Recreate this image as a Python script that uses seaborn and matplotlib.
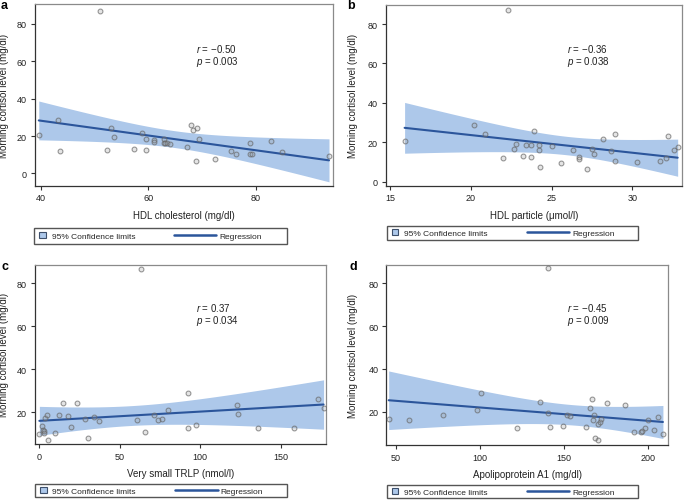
import numpy as np
import matplotlib
matplotlib.use("Agg")
import matplotlib.pyplot as plt
import seaborn as sns
from matplotlib.patches import Patch, Rectangle
from matplotlib.lines import Line2D

# values
hdl_chol = [39.6, 43.2, 43.5, 51.1, 52.4, 53.0, 53.7, 57.4, 58.9, 59.6, 59.6, 61.0, 61.1,
            63.0, 62.9, 63.2, 63.5, 64.0, 67.3, 68.0, 68.4, 69.1, 68.9, 69.4, 72.5, 75.4,
            76.3, 79.0, 79.0, 79.4, 82.8, 85.0, 93.7]
cort_a = [20.7, 28.7, 12.1, 86.8, 12.7, 24.5, 19.3, 13.2, 21.6, 12.7, 18.4, 17.7, 16.6,
          18.2, 16.3, 16.3, 16.3, 15.5, 13.9, 25.9, 23.0, 24.1, 6.6, 18.4, 7.5, 12.1,
          10.2, 16.1, 10.5, 10.2, 17.5, 11.4, 9.5]

hdl_particle = [15.9, 20.2, 20.9, 22.3, 22.0, 22.7, 22.8, 23.2, 23.4, 23.7, 23.7, 23.9,
                24.2, 24.2, 24.3, 25.0, 25.6, 26.3, 26.7, 26.7, 27.2, 27.5, 27.6, 28.2,
                28.7, 28.9, 28.9, 30.3, 31.7, 32.1, 32.2, 32.6, 32.8]
cort_b = [20.7, 28.8, 24.4, 86.9, 12.1, 16.7, 19.0, 13.3, 18.5, 18.5, 12.6, 25.9, 16.2,
          18.5, 7.6, 18.0, 9.3, 16.2, 12.6, 11.3, 6.7, 16.7, 14.0, 21.5, 15.5, 24.1,
          10.3, 9.9, 10.6, 12.1, 23.2, 16.0, 17.7]

vs_trlp = [0.0, 1.5, 2.2, 2.6, 2.6, 3.5, 4.8, 5.2, 10.0, 12.3, 14.8, 18.1, 19.4, 23.6,
           28.6, 30.2, 33.8, 36.9, 60.4, 63.4, 65.6, 71.3, 74.0, 75.9, 79.8, 92.5, 92.1,
           97.5, 122.6, 123.4, 135.8, 158.4, 173.3, 176.6]
cort_c = [9.8, 13.6, 12.0, 11.4, 10.6, 17.2, 18.8, 7.2, 10.5, 18.8, 24.5, 18.5, 13.1, 24.6,
          16.7, 8.0, 18.0, 16.0, 16.4, 86.8, 11.0, 18.6, 16.6, 16.7, 21.1, 29.0, 12.8,
          14.2, 23.4, 19.4, 12.7, 12.6, 26.2, 21.9]

apoa1 = [45.8, 57.9, 77.9, 98.4, 100.6, 122.1, 135.6, 140.3, 140.5, 141.9, 149.4, 152.0,
         153.6, 162.9, 165.2, 166.4, 167.6, 167.2, 168.6, 170.0, 170.0, 171.2, 172.2,
         175.3, 186.4, 191.5, 195.5, 196.5, 197.9, 199.8, 203.2, 206.0, 208.7]
cort_d = [16.7, 16.1, 18.6, 20.8, 28.8, 12.2, 24.4, 87.0, 19.2, 12.7, 13.4, 18.5, 18.0,
          12.7, 21.7, 26.1, 18.6, 16.3, 7.7, 6.9, 14.1, 15.3, 16.6, 24.1, 23.1, 10.4,
          10.4, 11.0, 12.4, 16.0, 11.3, 17.5, 9.6]

letters = ["a", "b", "c", "d"]
x_labels = ["HDL cholesterol (mg/dl)", "HDL particle (\u03bcmol/l)",
            "Very small TRLP (nmol/l)", "Apolipoprotein A1 (mg/dl)"]
r_values = ["\u22120.50", "\u22120.36", "0.37", "\u22120.45"]
p_values = ["0.003", "0.038", "0.034", "0.009"]
y_label = "Morning cortisol level (mg/dl)"

BAND = "#adc8ea"
LINE = "#2b559b"
W, H = 685, 502

sns.set_theme(style="white")
plt.rcParams["font.family"] = ["Liberation Sans", "DejaVu Sans"]
plt.rcParams["mathtext.fontset"] = "custom"
plt.rcParams["mathtext.it"] = "Liberation Sans:italic"
plt.rcParams["mathtext.rm"] = "Liberation Sans"


def fit_band(x, y, t=2.04):
    """OLS fit with 95% confidence limits of the mean."""
    x = np.asarray(x)
    y = np.asarray(y)
    n = len(x)
    b1, b0 = np.polyfit(x, y, 1)
    xs = np.linspace(x.min(), x.max(), 200)
    fit = b0 + b1 * xs
    s = np.sqrt(((y - (b0 + b1 * x)) ** 2).sum() / (n - 2))
    se = s * np.sqrt(1 / n + (xs - x.mean()) ** 2 / ((x - x.mean()) ** 2).sum())
    return xs, fit - t * se, fit + t * se


def px_rect(left, top, right, bottom):
    return [left / W, 1 - bottom / H, (right - left) / W, (bottom - top) / H]


panels = [
    dict(x=hdl_chol, y=cort_a, box=(34.5, 5, 333.3, 186.7), xlim=(38.8, 94.5), ylim=(-6.6, 90.7),
         xticks=[40, 60, 80], yticks=[0, 20, 40, 60, 80], txt=(196, 56), ylab_x=9.5,
         leg=(34, 228.7, 286.7, 244.7), letter=(1, 6)),
    dict(x=hdl_particle, y=cort_b, box=(385.7, 5.7, 681.7, 186.7), xlim=(14.73, 33.05), ylim=(-2.0, 89.8),
         xticks=[15, 20, 25, 30], yticks=[0, 20, 40, 60, 80], txt=(566.7, 56), ylab_x=358,
         leg=(386.7, 227.3, 638.3, 240.7), letter=(347, 6)),
    dict(x=vs_trlp, y=cort_c, box=(34.7, 265.7, 326, 445), xlim=(-2.9, 178.1), ylim=(5.3, 88.7),
         xticks=[0, 50, 100, 150], yticks=[20, 40, 60, 80], txt=(196, 314.5), ylab_x=9.5,
         leg=(35, 485, 286.7, 498.3), letter=(1, 267)),
    dict(x=apoa1, y=cort_d, box=(386, 265.7, 668.3, 446), xlim=(44.2, 211.9), ylim=(4.4, 88.7),
         xticks=[50, 100, 150, 200], yticks=[20, 40, 60, 80], txt=(566.7, 314.5), ylab_x=357.5,
         leg=(386.7, 486, 638.3, 499.3), letter=(349, 267)),
]

fig = plt.figure(figsize=(W / 100, H / 100), dpi=100)

for i, pn in enumerate(panels):
    ax = fig.add_axes(px_rect(*pn["box"]))
    xs, lo, hi = fit_band(pn["x"], pn["y"])
    ax.fill_between(xs, lo, hi, color=BAND, lw=0, zorder=1)
    sns.regplot(x=np.array(pn["x"]), y=np.array(pn["y"]), ax=ax, scatter=False, ci=None,
                truncate=True, line_kws=dict(color=LINE, lw=1.5, zorder=3))
    sns.scatterplot(x=pn["x"], y=pn["y"], ax=ax, s=12, marker="o",
                    facecolor=(0.6, 0.6, 0.6, 0.25), edgecolor=(0.4, 0.4, 0.4, 0.7),
                    linewidth=0.75, zorder=4)
    ax.set_xlim(*pn["xlim"])
    ax.set_ylim(*pn["ylim"])
    ax.set_xticks(pn["xticks"])
    ax.set_yticks(pn["yticks"])
    ax.tick_params(axis="both", which="major", labelsize=6.5, length=3, width=0.8,
                   color="#333333", pad=2.5, bottom=True, left=True, labelcolor="#222222")
    for side in ["left", "bottom"]:
        ax.spines[side].set_color("#333333")
        ax.spines[side].set_linewidth(0.9)
    for side in ["top", "right"]:
        ax.spines[side].set_color("#8a8a8a")
        ax.spines[side].set_linewidth(0.9)

    left, top, right, bottom = pn["box"]
    aw, ah = right - left, bottom - top
    ax.set_xlabel(x_labels[i], fontsize=7, color="#222222")
    ax.set_ylabel(y_label, fontsize=7, color="#222222")
    ax.xaxis.set_label_coords(0.5, -(207 - 182.7) / 181.7)
    ax.yaxis.set_label_coords((pn["ylab_x"] - left) / aw, 0.5)

    # r and p annotation
    tx, ty = pn["txt"]
    fig.text(tx / W, 1 - ty / H, "$r$ = " + r_values[i] + "\n$p$ = " + p_values[i],
             fontsize=7, va="center", ha="left", linespacing=1.0, color="#222222")

    # panel letter
    lx, ly = pn["letter"]
    fig.text(lx / W, 1 - ly / H, letters[i], fontsize=9, fontweight="bold", va="center",
             ha="left", color="black")

    # legend below the panel: framed box with two entries
    l0, t0, r0, b0 = pn["leg"]
    fig.add_artist(Rectangle((l0 / W, 1 - b0 / H), (r0 - l0) / W, (b0 - t0) / H,
                             transform=fig.transFigure, fill=False, edgecolor="#555555",
                             lw=1.0))
    yc = 1 - (t0 + b0) / 2 / H
    ci_handle = Patch(facecolor=BAND, edgecolor="#3d4f6b", lw=0.8)
    fig.legend(handles=[ci_handle], labels=["95% Confidence limits"],
               loc="center left", bbox_to_anchor=((l0 + 5) / W, yc), frameon=False,
               fontsize=6, handlelength=0.8, handleheight=0.8, handletextpad=0.7,
               borderpad=0, borderaxespad=0)
    reg_handle = Line2D([], [], color=LINE, lw=1.8)
    fig.legend(handles=[reg_handle], labels=["Regression"], loc="center left",
               bbox_to_anchor=((l0 + 140) / W, yc), frameon=False, fontsize=6,
               handlelength=5.1, handletextpad=0.4, borderpad=0, borderaxespad=0)

fig.savefig("out.png", dpi=100)
plt.close(fig)
